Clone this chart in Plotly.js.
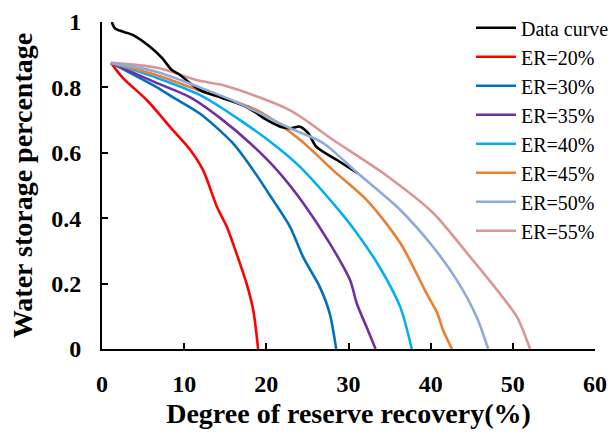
<!DOCTYPE html>
<html>
<head>
<meta charset="utf-8">
<script src="https://cdn.plot.ly/plotly-3.0.1.min.js"></script>
<style>html,body{margin:0;padding:0;background:#fff;}#chart{width:610px;height:432px;}</style>
</head>
<body>
<div id="chart"></div>
<script>
// Observed data curve
const dataX = [1.2, 1.6, 3.8, 5.8, 7.3, 8.5, 9.5, 10.7, 11.9, 14.7, 17.6, 20.1, 21.7, 22.9, 24.1, 25.1, 26.1, 28.6, 31.1];
const dataY = [1.0, 0.98, 0.96, 0.925, 0.89, 0.853, 0.838, 0.813, 0.792, 0.767, 0.74, 0.70, 0.68, 0.675, 0.68, 0.66, 0.618, 0.578, 0.538];

// Model curves
const er20X = [1.1, 2.5, 5.5, 8.6, 10.7, 12.3, 14.0, 15.2, 16.4, 17.6, 18.4, 19.0];
const er20Y = [0.875, 0.83, 0.76, 0.67, 0.61, 0.547, 0.434, 0.373, 0.29, 0.2, 0.12, 0.0];

const er30X = [1.1, 6.7, 8.6, 11.9, 15.9, 18.4, 20.8, 22.9, 24.5, 26.5, 27.7, 28.5];
const er30Y = [0.875, 0.80, 0.77, 0.72, 0.63, 0.547, 0.456, 0.373, 0.28, 0.19, 0.11, 0.0];

const er35X = [1.1, 6.7, 10.7, 14.7, 18.0, 21.3, 24.5, 27.7, 30.2, 31.0, 32.2, 33.3];
const er35Y = [0.875, 0.813, 0.77, 0.70, 0.63, 0.547, 0.446, 0.324, 0.21, 0.14, 0.067, 0.0];

const er40X = [1.1, 6.7, 11.9, 16.8, 21.3, 24.1, 28.1, 31.0, 33.8, 36.3, 37.7];
const er40Y = [0.875, 0.829, 0.777, 0.70, 0.618, 0.557, 0.446, 0.355, 0.25, 0.128, 0.0];

const er45X = [1.1, 6.7, 11.9, 18.9, 24.1, 28.1, 32.2, 36.3, 39.5, 40.8, 41.5, 42.6];
const er45Y = [0.875, 0.837, 0.79, 0.73, 0.64, 0.547, 0.456, 0.324, 0.17, 0.11, 0.058, 0.0];

const er50X = [1.1, 6.7, 11.9, 16.8, 22.9, 26.9, 31.1, 36.3, 40.3, 43.2, 45.6, 47.0];
const er50Y = [0.875, 0.847, 0.80, 0.75, 0.675, 0.63, 0.538, 0.425, 0.312, 0.21, 0.098, 0.0];

const er55X = [1.1, 6.7, 11.9, 14.7, 22.9, 28.1, 34.2, 40.3, 44.4, 48.4, 50.5, 52.1];
const er55Y = [0.875, 0.86, 0.82, 0.807, 0.73, 0.64, 0.538, 0.416, 0.294, 0.17, 0.098, 0.0];

const names = ['Data curve', 'ER=20%', 'ER=30%', 'ER=35%', 'ER=40%', 'ER=45%', 'ER=50%', 'ER=55%'];
const colors = ['#000000', '#FF0000', '#0070C0', '#7030A0', '#00B0F0', '#ED7D31', '#8EA9DB', '#D99694'];
const xs = [dataX, er20X, er30X, er35X, er40X, er45X, er50X, er55X];
const ys = [dataY, er20Y, er30Y, er35Y, er40Y, er45Y, er50Y, er55Y];

const xTicks = [0, 10, 20, 30, 40, 50, 60];
const yTicks = [0, 0.2, 0.4, 0.6, 0.8, 1];

const traces = [];
for (let i = 0; i < names.length; i++) {
  traces.push({
    x: xs[i], y: ys[i], name: names[i], type: 'scatter', mode: 'lines',
    line: {color: colors[i], width: 2.6, shape: 'spline', smoothing: 0.8},
    legendrank: i + 1
  });
}
// drawing order: grey-blue 50% overlays the black data curve as in the reference
const drawOrder = [1, 2, 3, 4, 5, 7, 0, 6];
const finalTraces = drawOrder.map(i => traces[i]);

const serif = 'Liberation Serif, Times New Roman, serif';
const layout = {
  width: 610, height: 432,
  margin: {l: 102, r: 15, t: 22, b: 83, autoexpand: false},
  paper_bgcolor: '#fff', plot_bgcolor: '#fff',
  showlegend: true,
  legend: {
    x: 0.7485, y: 1.042, xanchor: 'left', yanchor: 'top',
    font: {family: serif, size: 20, color: '#000'},
    bgcolor: 'rgba(0,0,0,0)', borderwidth: 0,
    itemwidth: 40, traceorder: 'normal', maxheight: 400
  },
  xaxis: {
    range: [0, 60], tickvals: xTicks, ticktext: xTicks.map(String),
    showgrid: false, zeroline: false, showline: true, linecolor: '#000', linewidth: 2,
    ticks: 'inside', ticklen: 6, tickwidth: 2, tickcolor: '#000',
    ticklabelstandoff: 12,
    tickfont: {family: serif, size: 24, color: '#000', weight: 'bold'},
    title: {text: 'Degree of reserve recovery(%)', font: {family: serif, size: 28, color: '#000', weight: 'bold'}, standoff: 8}
  },
  yaxis: {
    range: [0, 1], tickvals: yTicks, ticktext: yTicks.map(String),
    showgrid: false, zeroline: false, showline: true, linecolor: '#000', linewidth: 2,
    ticks: 'inside', ticklen: 6, tickwidth: 2, tickcolor: '#000',
    ticklabelstandoff: 14,
    tickfont: {family: serif, size: 24, color: '#000', weight: 'bold'},
    title: {text: 'Water storage percentage', font: {family: serif, size: 28, color: '#000', weight: 'bold'}, standoff: 10}
  }
};

Plotly.newPlot('chart', finalTraces, layout, {staticPlot: true, displayModeBar: false});
</script>
</body>
</html>
